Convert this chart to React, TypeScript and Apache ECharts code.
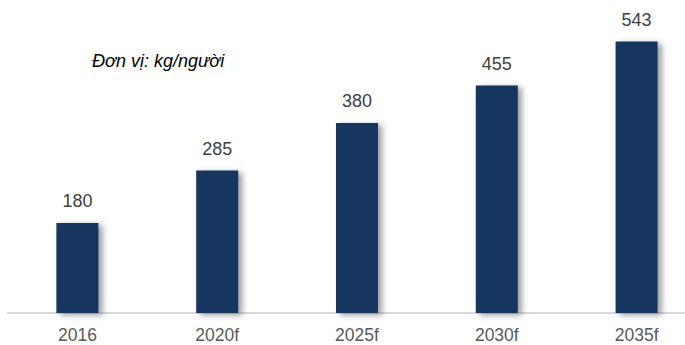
import React, { useEffect, useRef } from "react";
import * as echarts from "echarts";

const categories = ["2016", "2020f", "2025f", "2030f", "2035f"];
const values = [180, 285, 380, 455, 543];
const unitLabel = "Đơn vị: kg/người";

export default function App() {
  const ref = useRef<HTMLDivElement>(null);
  useEffect(() => {
    if (!ref.current) return;
    const chart = echarts.init(ref.current, null, { renderer: "svg" });
    chart.setOption({
      animation: false,
      backgroundColor: "#ffffff",
      title: {
        text: unitLabel,
        left: 87,
        top: 47,
        textStyle: {
          fontFamily: "Liberation Sans",
          fontStyle: "italic",
          fontWeight: "normal",
          fontSize: 18,
          color: "#000000",
        },
      },
      grid: {
        left: 7.5,
        width: 699,
        top: 13,
        bottom: 32,
        containLabel: false,
        outerBoundsMode: "none",
      },
      xAxis: {
        type: "category",
        data: categories,
        axisLine: { show: true, lineStyle: { color: "#d9d9d9", width: 2 } },
        axisTick: { show: false },
        axisLabel: {
          margin: 13,
          fontFamily: "Liberation Sans",
          fontSize: 17.5,
          color: "#595959",
        },
      },
      yAxis: {
        type: "value",
        min: 0,
        max: 600,
        show: false,
        splitLine: { show: false },
      },
      series: [
        {
          type: "bar",
          data: values,
          barWidth: 42,
          itemStyle: {
            color: "#17345e",
            shadowColor: "rgba(0,0,0,0.4)",
            shadowBlur: 6,
            shadowOffsetX: 4,
            shadowOffsetY: 2,
          },
          label: {
            show: true,
            position: "top",
            distance: 13,
            fontFamily: "Liberation Sans",
            fontSize: 18,
            color: "#404040",
          },
        },
      ],
    });
    return () => chart.dispose();
  }, []);
  return (
    <div
      ref={ref}
      style={{ position: "absolute", left: 0, top: 0, width: 685, height: 345 }}
    />
  );
}
